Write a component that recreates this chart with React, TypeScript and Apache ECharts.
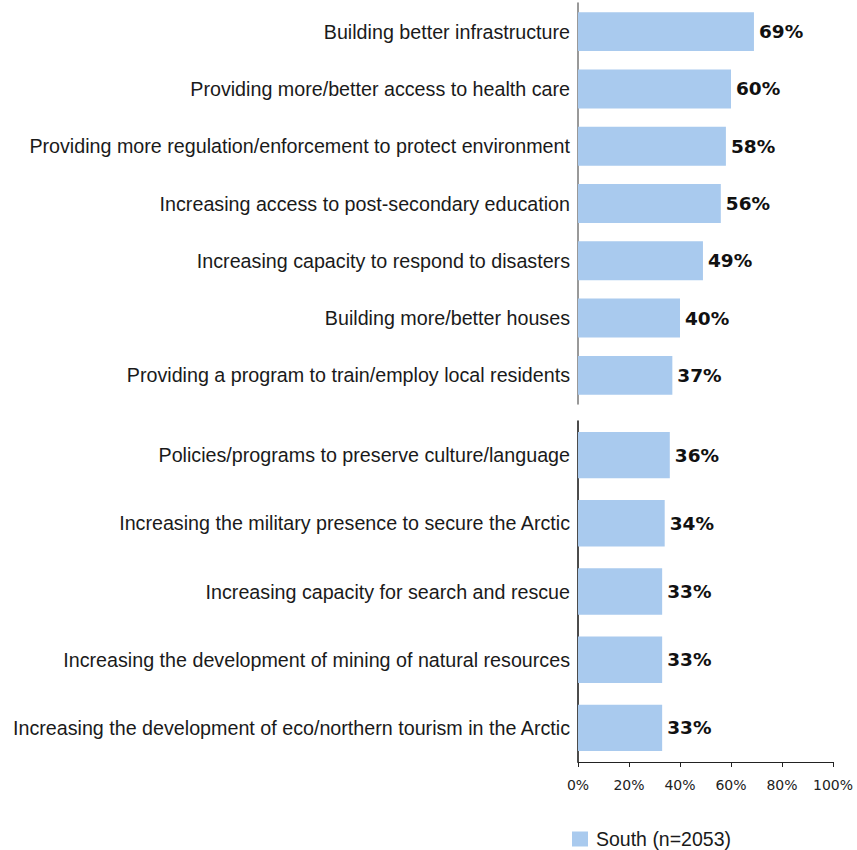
import React, { useEffect, useRef } from "react";
import * as echarts from "echarts";

const topCategories = [
  "Building better infrastructure",
  "Providing more/better access to health care",
  "Providing more regulation/enforcement to protect environment",
  "Increasing access to post-secondary education",
  "Increasing capacity to respond to disasters",
  "Building more/better houses",
  "Providing a program to train/employ local residents",
];
const topValues = [69, 60, 58, 56, 49, 40, 37];

const bottomCategories = [
  "Policies/programs to preserve culture/language",
  "Increasing the military presence to secure the Arctic",
  "Increasing capacity for search and rescue",
  "Increasing the development of mining of natural resources",
  "Increasing the development of eco/northern tourism in the Arctic",
];
const bottomValues = [36, 34, 33, 33, 33];

const seriesName = "South (n=2053)";
const xTicks = [0, 20, 40, 60, 80, 100];

const narrow = "'Liberation Sans Narrow', 'Arial Narrow', 'Liberation Sans', Arial, sans-serif";
const wide = "'DejaVu Sans', Verdana, sans-serif";
const barColor = "#a9caee";

if (typeof document !== "undefined") {
  document.body.style.margin = "0";
}

export default function App() {
  const ref = useRef<HTMLDivElement>(null);
  useEffect(() => {
    if (!ref.current) return;
    document.body.style.margin = "0";
    const chart = echarts.init(ref.current, undefined, { renderer: "svg" });
    const catLabel = {
      fontFamily: narrow,
      fontSize: 19.7,
      color: "#1a1a1a",
      margin: 8,
    };
    const valueLabel = {
      show: true,
      position: "right" as const,
      distance: 5,
      fontFamily: wide,
      fontWeight: "bold" as const,
      fontSize: 18.5,
      color: "#111",
      formatter: "{c}%",
    };
    chart.setOption({
      animation: false,
      backgroundColor: "#fff",
      legend: {
        data: [seriesName],
        left: 572,
        top: 829,
        itemWidth: 16,
        itemHeight: 15,
        itemGap: 10,
        icon: "rect",
        padding: 0,
        textStyle: {
          fontFamily: narrow,
          fontSize: 19.5,
          lineHeight: 17,
          color: "#1a1a1a",
          padding: [0, 0, 0, 3],
        },
      },
      grid: [
        { left: 578, right: 24, top: 3, height: 401 },
        { left: 578, right: 24, top: 421, height: 341 },
      ],
      xAxis: [
        {
          gridIndex: 0,
          type: "value",
          min: 0,
          max: 100,
          interval: 20,
          show: false,
        },
        {
          gridIndex: 1,
          type: "value",
          min: 0,
          max: 100,
          interval: 20,
          splitLine: { show: false },
          axisLine: { show: true, lineStyle: { color: "#222", width: 1 } },
          axisTick: { show: true, length: 5, lineStyle: { color: "#222" } },
          axisLabel: {
            formatter: (v: number) => (xTicks.includes(v) ? v + "%" : ""),
            fontFamily: wide,
            fontSize: 14,
            color: "#222",
            margin: 16,
          },
        },
      ],
      yAxis: [
        {
          gridIndex: 0,
          type: "category",
          inverse: true,
          data: topCategories,
          axisLine: { show: true, lineStyle: { color: "#777", width: 1.5 } },
          axisTick: { show: false },
          axisLabel: catLabel,
        },
        {
          gridIndex: 1,
          type: "category",
          inverse: true,
          data: bottomCategories,
          axisLine: { show: true, lineStyle: { color: "#111", width: 1.5 } },
          axisTick: { show: false },
          axisLabel: catLabel,
        },
      ],
      series: [
        {
          name: seriesName,
          type: "bar",
          xAxisIndex: 0,
          yAxisIndex: 0,
          data: topValues,
          barCategoryGap: "32%",
          itemStyle: { color: barColor },
          label: valueLabel,
        },
        {
          name: seriesName,
          type: "bar",
          xAxisIndex: 1,
          yAxisIndex: 1,
          data: bottomValues,
          barCategoryGap: "32%",
          itemStyle: { color: barColor },
          label: valueLabel,
        },
      ],
    });
    return () => chart.dispose();
  }, []);
  return <div ref={ref} style={{ width: 857, height: 850 }} />;
}
